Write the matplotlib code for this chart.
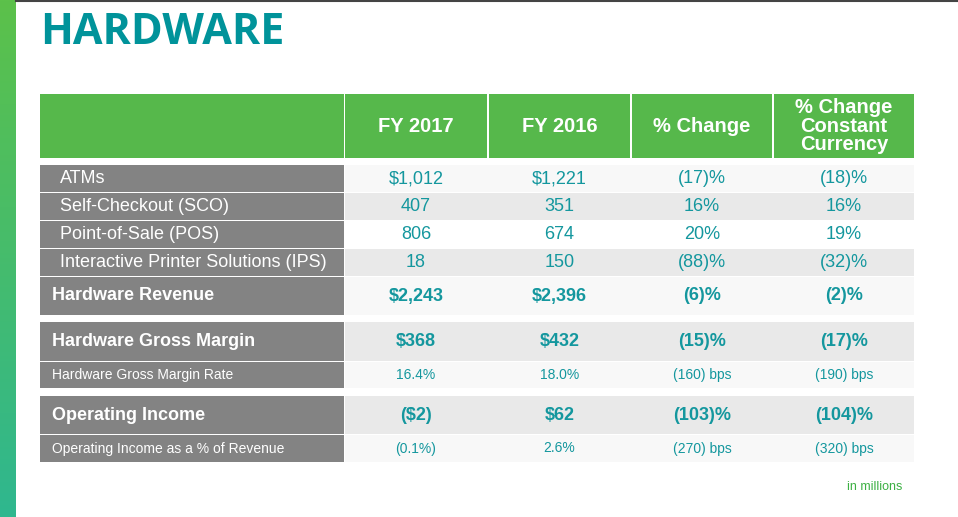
import matplotlib

matplotlib.use("Agg")
import matplotlib.pyplot as plt
import numpy as np
from matplotlib.patches import Rectangle

plt.rcParams["font.family"] = ["Liberation Sans", "DejaVu Sans"]

TEAL = "#14979e"
GREEN = "#56b84b"
GREY = "#838383"

headers = ["FY 2017", "FY 2016", "% Change", "% Change\nConstant\nCurrency"]
row_labels = [
    "ATMs", "Self-Checkout (SCO)", "Point-of-Sale (POS)",
    "Interactive Printer Solutions (IPS)", "Hardware Revenue",
    "Hardware Gross Margin", "Hardware Gross Margin Rate",
    "Operating Income", "Operating Income as a % of Revenue",
]
fy2017 = ["$1,012", "407", "806", "18", "$2,243", "$368", "16.4%", "($2)", "(0.1%)"]
fy2016 = ["$1,221", "351", "674", "150", "$2,396", "$432", "18.0%", "$62", "2.6%"]
pct_change = ["(17)%", "16%", "20%", "(88)%", "(6)%", "(15)%", "(160) bps", "(103)%", "(270) bps"]
pct_cc = ["(18)%", "16%", "19%", "(32)%", "(2)%", "(17)%", "(190) bps", "(104)%", "(320) bps"]

# row geometry in pixels: (top, bottom, style)
rows = [
    (165, 192, "sub"), (193, 220, "sub"), (221, 248, "sub"), (249, 276, "sub"),
    (277, 315, "major"), (322, 361, "major"), (362, 388, "rate"),
    (396, 434, "major"), (435, 462, "rate"),
]
value_bg = ["#f8f8f8", "#e9e9e9", "#ffffff", "#e9e9e9", "#f8f8f8",
            "#e9e9e9", "#f8f8f8", "#e9e9e9", "#f8f8f8"]
cols = [(40, 344), (345, 487), (489, 630), (632, 772), (774, 914)]

fig = plt.figure(figsize=(9.58, 5.17), dpi=100)
ax = fig.add_axes([0, 0, 1, 1])
ax.set_xlim(0, 958)
ax.set_ylim(517, 0)
ax.axis("off")

# left gradient bar
grad = np.linspace(0, 1, 256).reshape(-1, 1)
cmap = matplotlib.colors.LinearSegmentedColormap.from_list("g", ["#5cc14a", "#2fb78f"])
ax.imshow(grad, cmap=cmap, extent=[0, 16, 517, 0], aspect="auto")
ax.plot([16, 958], [0.8, 0.8], color="#444444", lw=1.5)

ax.text(40, 33, "HARDWARE", color="#00939a", fontsize=31, fontweight="bold",
        family=["Open Sans", "DejaVu Sans"], va="center", ha="left")

# header
for i, (x0, x1) in enumerate(cols):
    ax.add_patch(Rectangle((x0, 94), x1 - x0, 64, color=GREEN, lw=0))
    if i > 0:
        ax.text((x0 + x1) / 2, 126, headers[i - 1], color="white", fontsize=14.5,
                fontweight="bold", ha="center", va="center", linespacing=0.95)

for r, (top, bot, style) in enumerate(rows):
    h = bot - top
    ax.add_patch(Rectangle((cols[0][0], top), cols[0][1] - cols[0][0], h, color=GREY, lw=0))
    ax.add_patch(Rectangle((cols[1][0], top), cols[4][1] - cols[1][0], h, color=value_bg[r], lw=0))
    yc = (top + bot) / 2
    if style == "sub":
        lx, fs, fw, vfs = 60, 13, "normal", 13
    elif style == "major":
        lx, fs, fw, vfs = 52, 13, "bold", 13
    else:
        lx, fs, fw, vfs = 52, 10, "normal", 10
    ax.text(lx, yc, row_labels[r], color="white", fontsize=fs, fontweight=fw, va="center")
    for c, vals in enumerate([fy2017, fy2016, pct_change, pct_cc]):
        x0, x1 = cols[c + 1]
        ax.text((x0 + x1) / 2, yc, vals[r], color=TEAL, fontsize=vfs, fontweight=fw,
                ha="center", va="center")

ax.text(902, 487, "in millions", color="#3cb043", fontsize=9, ha="right", va="center")

fig.savefig("out.png", dpi=100)
